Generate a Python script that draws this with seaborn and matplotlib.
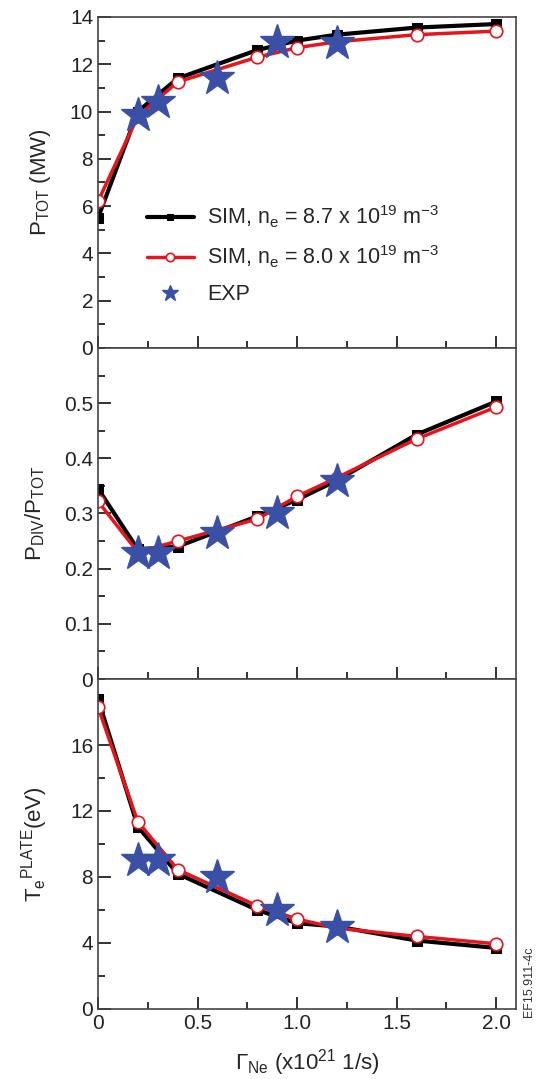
import seaborn as sns
import matplotlib.pyplot as plt
from matplotlib.ticker import MultipleLocator

# neon puff rate (x10^21 1/s)
gamma_sim = [0, 0.2, 0.4, 0.8, 1.0, 1.2, 1.6, 2.0]
gamma_exp = [0.2, 0.3, 0.6, 0.9, 1.2]

# total power (MW)
ptot_87 = [5.5, 10.0, 11.4, 12.6, 13.0, 13.25, 13.55, 13.7]
ptot_80 = [6.2, 9.8, 11.25, 12.3, 12.7, 12.95, 13.25, 13.4]
ptot_exp = [9.85, 10.4, 11.4, 12.95, 12.9]

# divertor power fraction
pdiv_87 = [0.345, 0.235, 0.24, 0.295, 0.325, 0.36, 0.443, 0.503]
pdiv_80 = [0.322, 0.23, 0.25, 0.29, 0.331, 0.365, 0.435, 0.493]
pdiv_exp = [0.229, 0.229, 0.265, 0.30, 0.358]

# plate electron temperature (eV)
te_87 = [18.8, 11.05, 8.2, 6.0, 5.2, 5.0, 4.15, 3.7]
te_80 = [18.3, 11.35, 8.45, 6.25, 5.45, 4.9, 4.4, 3.95]
te_exp = [9.0, 9.0, 8.0, 6.0, 4.95]

x_ticks = [0, 0.5, 1.0, 1.5, 2.0]
x_ticklabels = ['0', '0.5', '1.0', '1.5', '2.0']
ptot_ticks = [0, 2, 4, 6, 8, 10, 12, 14]
pdiv_ticks = [0, 0.1, 0.2, 0.3, 0.4, 0.5]
te_ticks = [0, 4, 8, 12, 16]

lab_87 = 'SIM, n$_e$ = 8.7 x 10$^{19}$ m$^{-3}$'
lab_80 = 'SIM, n$_e$ = 8.0 x 10$^{19}$ m$^{-3}$'

sns.set_style('ticks')
plt.rcParams['font.family'] = ['Liberation Sans', 'DejaVu Sans']
plt.rcParams['mathtext.default'] = 'regular'

star_col = '#3a4fa6'

fig = plt.figure(figsize=(5.37, 10.79), dpi=100)
left, width = 0.1825, 0.7785
ax1 = fig.add_axes([left, 0.6775, width, 0.3068])
ax2 = fig.add_axes([left, 0.3707, width, 0.3068])
ax3 = fig.add_axes([left, 0.0649, width, 0.3058])

panels = [
    (ax1, ptot_87, ptot_80, ptot_exp, (0, 14), ptot_ticks, 1),
    (ax2, pdiv_87, pdiv_80, pdiv_exp, (0, 0.6), pdiv_ticks, 0.05),
    (ax3, te_87, te_80, te_exp, (0, 20), te_ticks, 2),
]

for ax, y87, y80, yexp, ylim, yt, mnr in panels:
    sns.lineplot(x=gamma_sim, y=y87, ax=ax, color='black', lw=3, marker='s',
                 markersize=7, markeredgecolor='black', label=lab_87)
    sns.lineplot(x=gamma_sim, y=y80, ax=ax, color='#e8141b', lw=2.5, marker='o',
                 markersize=9, markerfacecolor='white', markeredgecolor='#e8141b',
                 markeredgewidth=1.2, label=lab_80)
    ax.plot(gamma_exp, yexp, ls='none', marker='*', markersize=26,
            color=star_col, label='EXP', zorder=5)
    ax.set_xticks(x_ticks)
    ax.set_xticklabels(x_ticklabels)
    ax.set_yticks(yt)
    ax.set_yticklabels([('%g' % v) for v in yt])
    ax.xaxis.set_minor_locator(MultipleLocator(0.25))
    ax.yaxis.set_minor_locator(MultipleLocator(mnr))
    ax.set_xlim(0, 2.1)
    ax.set_ylim(*ylim)
    ax.tick_params(which='both', direction='in', top=False, right=False,
                   labelsize=15, colors='#222222')
    ax.tick_params(which='major', length=9, width=1.3)
    ax.tick_params(which='minor', length=5, width=1.3)
    for s in ax.spines.values():
        s.set_linewidth(1.2)
        s.set_color('#444444')
    if ax is not ax3:
        ax.tick_params(labelbottom=False)
    if ax is not ax1:
        ax.get_legend().remove()

h, l = ax1.get_legend_handles_labels()
leg = ax1.legend(h, l, loc='lower left', bbox_to_anchor=(0.07, 0.07),
                 frameon=False, fontsize=15.5, handlelength=2.2,
                 labelspacing=0.65, handletextpad=0.6)
for hd, ms in zip(leg.legend_handles, [5, 6, 12]):
    hd.set_markersize(ms)

ax1.set_ylabel('P$_{TOT}$ (MW)', fontsize=16, labelpad=12)
ax2.set_ylabel('P$_{DIV}$/P$_{TOT}$', fontsize=16, labelpad=12)
ax3.set_ylabel('T$_e$$^{PLATE}$(eV)', fontsize=16, labelpad=14)
ax3.set_xlabel('$\\Gamma_{Ne}$ (x10$^{21}$ 1/s)', fontsize=16, labelpad=10)

fig.text(0.985, 0.09, 'EF15.911-4c', rotation=90, fontsize=9,
         ha='center', va='center', color='#333333')

fig.savefig('out.png', dpi=100)
